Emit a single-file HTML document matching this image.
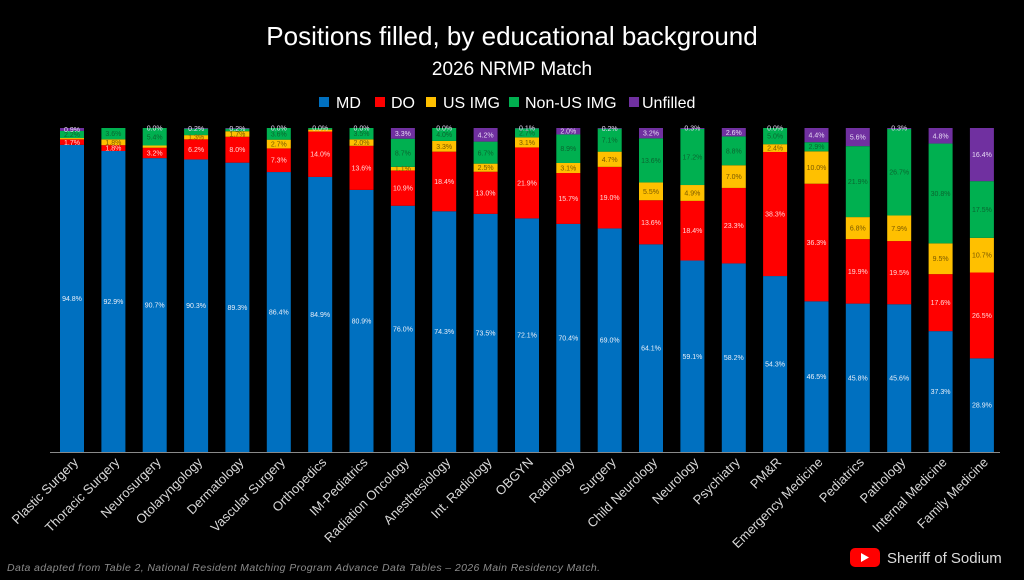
<!DOCTYPE html>
<html><head><meta charset="utf-8"><style>
html,body{margin:0;padding:0;background:#000;}
svg{display:block;font-family:"Liberation Sans",sans-serif;}
.c{font-size:13px;fill:#d8d8d8;text-anchor:end;}
.l{font-size:7px;text-anchor:middle;}
.w{fill:#e8eef8}.p{fill:#ffd6d6}.y{fill:#7a5800}.g{fill:#0a6630}.u{fill:#e6d8f4}
</style></head><body>
<svg width="1024" height="580" viewBox="0 0 1024 580" xmlns="http://www.w3.org/2000/svg">
<rect width="1024" height="580" fill="#000"/>
<text x="512" y="45" font-size="26" fill="#fff" text-anchor="middle">Positions filled, by educational background</text>
<text x="512" y="75" font-size="19" fill="#fff" text-anchor="middle">2026 NRMP Match</text>
<g font-size="16" fill="#fff">
<rect x="319" y="97" width="10" height="10" fill="#0070c0"/><text x="336" y="108">MD</text>
<rect x="375" y="97" width="10" height="10" fill="#ff0000"/><text x="391" y="108">DO</text>
<rect x="426" y="97" width="10" height="10" fill="#ffc000"/><text x="443" y="108">US IMG</text>
<rect x="509" y="97" width="10" height="10" fill="#00b050"/><text x="525" y="108">Non-US IMG</text>
<rect x="629" y="97" width="10" height="10" fill="#7030a0"/><text x="642" y="108">Unfilled</text>
</g>
<defs>
<g id="dummy"></g>
</defs>
<!-- bars: translate(x,452) scale(1,-3.24), rect y=cum height=val -->
<g fill="#0070c0">
<g transform="translate(60,452) scale(1,-3.24)"><rect width="24" height="94.8"/><rect y="94.8" width="24" height="1.7" fill="#f00"/><rect y="96.5" width="24" height="0.4" fill="#ffc000"/><rect y="96.9" width="24" height="2.2" fill="#00b050"/><rect y="99.1" width="24" height="0.9" fill="#7030a0"/></g>
<g transform="translate(101.4,452) scale(1,-3.24)"><rect width="24" height="92.9"/><rect y="92.9" width="24" height="1.8" fill="#f00"/><rect y="94.7" width="24" height="1.8" fill="#ffc000"/><rect y="96.5" width="24" height="3.5" fill="#00b050"/></g>
<g transform="translate(142.7,452) scale(1,-3.24)"><rect width="24" height="90.7"/><rect y="90.7" width="24" height="3.2" fill="#f00"/><rect y="93.9" width="24" height="0.7" fill="#ffc000"/><rect y="94.6" width="24" height="5.4" fill="#00b050"/></g>
<g transform="translate(184.1,452) scale(1,-3.24)"><rect width="24" height="90.3"/><rect y="90.3" width="24" height="6.2" fill="#f00"/><rect y="96.5" width="24" height="1.3" fill="#ffc000"/><rect y="97.8" width="24" height="2.0" fill="#00b050"/><rect y="99.8" width="24" height="0.2" fill="#7030a0"/></g>
<g transform="translate(225.4,452) scale(1,-3.24)"><rect width="24" height="89.3"/><rect y="89.3" width="24" height="8.0" fill="#f00"/><rect y="97.3" width="24" height="1.7" fill="#ffc000"/><rect y="99" width="24" height="0.8" fill="#00b050"/><rect y="99.8" width="24" height="0.2" fill="#7030a0"/></g>
<g transform="translate(266.8,452) scale(1,-3.24)"><rect width="24" height="86.4"/><rect y="86.4" width="24" height="7.3" fill="#f00"/><rect y="93.7" width="24" height="2.7" fill="#ffc000"/><rect y="96.4" width="24" height="3.6" fill="#00b050"/></g>
<g transform="translate(308.2,452) scale(1,-3.24)"><rect width="24" height="84.9"/><rect y="84.9" width="24" height="14.0" fill="#f00"/><rect y="98.9" width="24" height="0.6" fill="#ffc000"/><rect y="99.5" width="24" height="0.5" fill="#00b050"/></g>
<g transform="translate(349.5,452) scale(1,-3.24)"><rect width="24" height="80.9"/><rect y="80.9" width="24" height="13.6" fill="#f00"/><rect y="94.5" width="24" height="2.0" fill="#ffc000"/><rect y="96.5" width="24" height="3.5" fill="#00b050"/></g>
<g transform="translate(390.9,452) scale(1,-3.24)"><rect width="24" height="76"/><rect y="76" width="24" height="10.9" fill="#f00"/><rect y="86.9" width="24" height="1.1" fill="#ffc000"/><rect y="88" width="24" height="8.7" fill="#00b050"/><rect y="96.7" width="24" height="3.3" fill="#7030a0"/></g>
<g transform="translate(432.2,452) scale(1,-3.24)"><rect width="24" height="74.3"/><rect y="74.3" width="24" height="18.4" fill="#f00"/><rect y="92.7" width="24" height="3.3" fill="#ffc000"/><rect y="96" width="24" height="4.0" fill="#00b050"/></g>
<g transform="translate(473.6,452) scale(1,-3.24)"><rect width="24" height="73.5"/><rect y="73.5" width="24" height="13.0" fill="#f00"/><rect y="86.5" width="24" height="2.5" fill="#ffc000"/><rect y="89" width="24" height="6.8" fill="#00b050"/><rect y="95.8" width="24" height="4.2" fill="#7030a0"/></g>
<g transform="translate(515,452) scale(1,-3.24)"><rect width="24" height="72.1"/><rect y="72.1" width="24" height="21.9" fill="#f00"/><rect y="94" width="24" height="3.1" fill="#ffc000"/><rect y="97.1" width="24" height="2.8" fill="#00b050"/><rect y="99.9" width="24" height="0.1" fill="#7030a0"/></g>
<g transform="translate(556.3,452) scale(1,-3.24)"><rect width="24" height="70.4"/><rect y="70.4" width="24" height="15.7" fill="#f00"/><rect y="86.1" width="24" height="3.1" fill="#ffc000"/><rect y="89.2" width="24" height="8.8" fill="#00b050"/><rect y="98" width="24" height="2.0" fill="#7030a0"/></g>
<g transform="translate(597.7,452) scale(1,-3.24)"><rect width="24" height="69"/><rect y="69" width="24" height="19" fill="#f00"/><rect y="88" width="24" height="4.7" fill="#ffc000"/><rect y="92.7" width="24" height="7.1" fill="#00b050"/><rect y="99.8" width="24" height="0.2" fill="#7030a0"/></g>
<g transform="translate(639,452) scale(1,-3.24)"><rect width="24" height="64.1"/><rect y="64.1" width="24" height="13.6" fill="#f00"/><rect y="77.7" width="24" height="5.5" fill="#ffc000"/><rect y="83.2" width="24" height="13.6" fill="#00b050"/><rect y="96.8" width="24" height="3.2" fill="#7030a0"/></g>
<g transform="translate(680.4,452) scale(1,-3.24)"><rect width="24" height="59.1"/><rect y="59.1" width="24" height="18.4" fill="#f00"/><rect y="77.5" width="24" height="4.9" fill="#ffc000"/><rect y="82.4" width="24" height="17.3" fill="#00b050"/><rect y="99.7" width="24" height="0.3" fill="#7030a0"/></g>
<g transform="translate(721.8,452) scale(1,-3.24)"><rect width="24" height="58.2"/><rect y="58.2" width="24" height="23.3" fill="#f00"/><rect y="81.5" width="24" height="7.0" fill="#ffc000"/><rect y="88.5" width="24" height="8.9" fill="#00b050"/><rect y="97.4" width="24" height="2.6" fill="#7030a0"/></g>
<g transform="translate(763.1,452) scale(1,-3.24)"><rect width="24" height="54.3"/><rect y="54.3" width="24" height="38.3" fill="#f00"/><rect y="92.6" width="24" height="2.4" fill="#ffc000"/><rect y="95" width="24" height="5.0" fill="#00b050"/></g>
<g transform="translate(804.5,452) scale(1,-3.24)"><rect width="24" height="46.5"/><rect y="46.5" width="24" height="36.3" fill="#f00"/><rect y="82.8" width="24" height="10" fill="#ffc000"/><rect y="92.8" width="24" height="2.8" fill="#00b050"/><rect y="95.6" width="24" height="4.4" fill="#7030a0"/></g>
<g transform="translate(845.8,452) scale(1,-3.24)"><rect width="24" height="45.8"/><rect y="45.8" width="24" height="19.9" fill="#f00"/><rect y="65.7" width="24" height="6.8" fill="#ffc000"/><rect y="72.5" width="24" height="21.9" fill="#00b050"/><rect y="94.4" width="24" height="5.6" fill="#7030a0"/></g>
<g transform="translate(887.2,452) scale(1,-3.24)"><rect width="24" height="45.6"/><rect y="45.6" width="24" height="19.5" fill="#f00"/><rect y="65.1" width="24" height="7.9" fill="#ffc000"/><rect y="73" width="24" height="26.7" fill="#00b050"/><rect y="99.7" width="24" height="0.3" fill="#7030a0"/></g>
<g transform="translate(928.6,452) scale(1,-3.24)"><rect width="24" height="37.3"/><rect y="37.3" width="24" height="17.6" fill="#f00"/><rect y="54.9" width="24" height="9.5" fill="#ffc000"/><rect y="64.4" width="24" height="30.8" fill="#00b050"/><rect y="95.2" width="24" height="4.8" fill="#7030a0"/></g>
<g transform="translate(969.9,452) scale(1,-3.24)"><rect width="24" height="28.9"/><rect y="28.9" width="24" height="26.5" fill="#f00"/><rect y="55.4" width="24" height="10.7" fill="#ffc000"/><rect y="66.1" width="24" height="17.5" fill="#00b050"/><rect y="83.6" width="24" height="16.4" fill="#7030a0"/></g>
</g>
<line x1="50" y1="452.5" x2="1000" y2="452.5" stroke="#8a8a8a" stroke-width="1"/>
<!-- value labels -->
<g class="l">
<text class="w" x="72" y="301">94.8%</text><text class="p" x="72" y="145">1.7%</text><text class="g" x="72" y="137">2.2%</text><text class="u" x="72" y="132">0.9%</text>
<text class="w" x="113.4" y="304">92.9%</text><text class="p" x="113.4" y="150.6">1.8%</text><text class="y" x="113.4" y="144.8">1.8%</text><text class="g" x="113.4" y="136">3.6%</text>
<text class="w" x="154.7" y="307.6">90.7%</text><text class="p" x="154.7" y="155.4">3.2%</text><text class="g" x="154.7" y="139.3">5.4%</text><text class="u" x="154.7" y="130.5">0.0%</text>
<text class="w" x="196.1" y="308.2">90.3%</text><text class="p" x="196.1" y="151.9">6.2%</text><text class="y" x="196.1" y="139.7">1.3%</text><text class="u" x="196.1" y="130.8">0.2%</text>
<text class="w" x="237.4" y="309.8">89.3%</text><text class="p" x="237.4" y="152.2">8.0%</text><text class="y" x="237.4" y="136.5">1.7%</text><text class="u" x="237.4" y="130.8">0.2%</text>
<text class="w" x="278.8" y="314.5">86.4%</text><text class="p" x="278.8" y="162.7">7.3%</text><text class="y" x="278.8" y="146.5">2.7%</text><text class="g" x="278.8" y="136.3">3.6%</text><text class="u" x="278.8" y="130.5">0.0%</text>
<text class="w" x="320.2" y="317">84.9%</text><text class="p" x="320.2" y="156.7">14.0%</text><text class="u" x="320.2" y="130.5">0.0%</text>
<text class="w" x="361.5" y="323.4">80.9%</text><text class="p" x="361.5" y="170.4">13.6%</text><text class="y" x="361.5" y="145.1">2.0%</text><text class="g" x="361.5" y="136.2">3.5%</text><text class="u" x="361.5" y="130.5">0.0%</text>
<text class="w" x="402.9" y="331.4">76.0%</text><text class="p" x="402.9" y="190.6">10.9%</text><text class="y" x="402.9" y="171.2">1.1%</text><text class="g" x="402.9" y="155.6">8.7%</text><text class="u" x="402.9" y="135.8">3.3%</text>
<text class="w" x="444.2" y="334.1">74.3%</text><text class="p" x="444.2" y="184">18.4%</text><text class="y" x="444.2" y="148.8">3.3%</text><text class="g" x="444.2" y="137">4.0%</text><text class="u" x="444.2" y="130.5">0.0%</text>
<text class="w" x="485.6" y="335.4">73.5%</text><text class="p" x="485.6" y="195.3">13.0%</text><text class="y" x="485.6" y="170.2">2.5%</text><text class="g" x="485.6" y="155.3">6.7%</text><text class="u" x="485.6" y="137.6">4.2%</text>
<text class="w" x="527" y="337.7">72.1%</text><text class="p" x="527" y="185.4">21.9%</text><text class="y" x="527" y="144.9">3.1%</text><text class="g" x="527" y="135.5">2.7%</text><text class="u" x="527" y="130.5">0.1%</text>
<text class="w" x="568.3" y="340.5">70.4%</text><text class="p" x="568.3" y="201">15.7%</text><text class="y" x="568.3" y="170.5">3.1%</text><text class="g" x="568.3" y="151.1">8.9%</text><text class="u" x="568.3" y="133.7">2.0%</text>
<text class="w" x="609.7" y="342.7">69.0%</text><text class="p" x="609.7" y="200.2">19.0%</text><text class="y" x="609.7" y="161.8">4.7%</text><text class="g" x="609.7" y="142.6">7.1%</text><text class="u" x="609.7" y="130.8">0.2%</text>
<text class="w" x="651" y="350.7">64.1%</text><text class="p" x="651" y="224.8">13.6%</text><text class="y" x="651" y="193.8">5.5%</text><text class="g" x="651" y="162.9">13.6%</text><text class="u" x="651" y="135.7">3.2%</text>
<text class="w" x="692.4" y="358.8">59.1%</text><text class="p" x="692.4" y="233.2">18.4%</text><text class="y" x="692.4" y="195.5">4.9%</text><text class="g" x="692.4" y="159.7">17.2%</text><text class="u" x="692.4" y="130.5">0.3%</text>
<text class="w" x="733.8" y="360.2">58.2%</text><text class="p" x="733.8" y="228.2">23.3%</text><text class="y" x="733.8" y="179.1">7.0%</text><text class="g" x="733.8" y="153.5">8.8%</text><text class="u" x="733.8" y="135">2.6%</text>
<text class="w" x="775.1" y="366.5">54.3%</text><text class="p" x="775.1" y="216.5">38.3%</text><text class="y" x="775.1" y="150.6">2.4%</text><text class="g" x="775.1" y="138.6">5.0%</text><text class="u" x="775.1" y="130.5">0.0%</text>
<text class="w" x="816.5" y="379.2">46.5%</text><text class="p" x="816.5" y="245">36.3%</text><text class="y" x="816.5" y="170">10.0%</text><text class="g" x="816.5" y="149.1">2.9%</text><text class="u" x="816.5" y="137.6">4.4%</text>
<text class="w" x="857.8" y="380.3">45.8%</text><text class="p" x="857.8" y="273.9">19.9%</text><text class="y" x="857.8" y="230.3">6.8%</text><text class="g" x="857.8" y="183.8">21.9%</text><text class="u" x="857.8" y="139.6">5.6%</text>
<text class="w" x="899.2" y="380.6">45.6%</text><text class="p" x="899.2" y="275.2">19.5%</text><text class="y" x="899.2" y="230.8">7.9%</text><text class="g" x="899.2" y="174.7">26.7%</text><text class="u" x="899.2" y="130.5">0.3%</text>
<text class="w" x="940.6" y="394.1">37.3%</text><text class="p" x="940.6" y="305.1">17.6%</text><text class="y" x="940.6" y="261.2">9.5%</text><text class="g" x="940.6" y="195.9">30.8%</text><text class="u" x="940.6" y="138.3">4.8%</text>
<text class="w" x="981.9" y="407.7">28.9%</text><text class="p" x="981.9" y="317.9">26.5%</text><text class="y" x="981.9" y="257.7">10.7%</text><text class="g" x="981.9" y="212">17.5%</text><text class="u" x="981.9" y="157.1">16.4%</text>
</g>
<!-- category labels -->
<g class="c">
<text transform="translate(79,463) rotate(-45)">Plastic Surgery</text>
<text transform="translate(120.4,463) rotate(-45)">Thoracic Surgery</text>
<text transform="translate(161.7,463) rotate(-45)">Neurosurgery</text>
<text transform="translate(203.1,463) rotate(-45)">Otolaryngology</text>
<text transform="translate(244.4,463) rotate(-45)">Dermatology</text>
<text transform="translate(285.8,463) rotate(-45)">Vascular Surgery</text>
<text transform="translate(327.2,463) rotate(-45)">Orthopedics</text>
<text transform="translate(368.5,463) rotate(-45)">IM-Pediatrics</text>
<text transform="translate(409.9,463) rotate(-45)">Radiation Oncology</text>
<text transform="translate(451.2,463) rotate(-45)">Anesthesiology</text>
<text transform="translate(492.6,463) rotate(-45)">Int. Radiology</text>
<text transform="translate(534,463) rotate(-45)">OBGYN</text>
<text transform="translate(575.3,463) rotate(-45)">Radiology</text>
<text transform="translate(616.7,463) rotate(-45)">Surgery</text>
<text transform="translate(658,463) rotate(-45)">Child Neurology</text>
<text transform="translate(699.4,463) rotate(-45)">Neurology</text>
<text transform="translate(740.8,463) rotate(-45)">Psychiatry</text>
<text transform="translate(782.1,463) rotate(-45)">PM&amp;R</text>
<text transform="translate(823.5,463) rotate(-45)">Emergency Medicine</text>
<text transform="translate(864.8,463) rotate(-45)">Pediatrics</text>
<text transform="translate(906.2,463) rotate(-45)">Pathology</text>
<text transform="translate(947.6,463) rotate(-45)">Internal Medicine</text>
<text transform="translate(988.9,463) rotate(-45)">Family Medicine</text>
</g>
<text x="7" y="571" font-size="10.5" font-style="italic" fill="#8c8c8c" textLength="593">Data adapted from Table 2, National Resident Matching Program Advance Data Tables – 2026 Main Residency Match.</text>
<rect x="850" y="548" width="30" height="19" rx="5" fill="#ff0000"/>
<polygon points="861,553 861,562 869,557.5" fill="#fff"/>
<text x="887" y="563" font-size="15" fill="#dcdcdc">Sheriff of Sodium</text>
</svg>
</body></html>
